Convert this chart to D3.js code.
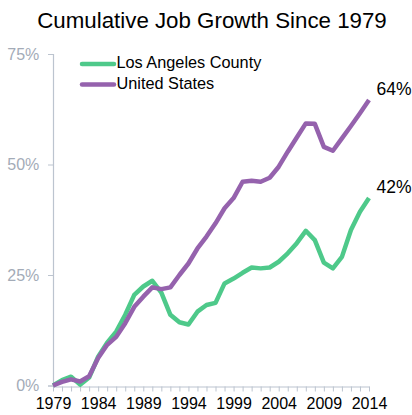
<!DOCTYPE html>
<html><head><meta charset="utf-8">
<script src="https://cdn.jsdelivr.net/npm/d3@7"></script>
<style>body{margin:0;background:#fff}svg{display:block;font-family:"Liberation Sans",Arial,sans-serif}</style>
</head><body><svg id="c" width="412" height="415"></svg>
<script>
const years = d3.range(1979, 2015);
const laCounty = [0,1.2,2.0,0.2,1.8,6.5,9.7,12.2,16,20.5,22.4,23.7,21,16,14.3,13.8,16.7,18.2,18.7,23.1,24.2,25.5,26.7,26.5,26.7,28,29.9,32.2,35.0,32.9,27.8,26.5,29.1,35.2,39.3,42.4];
const unitedStates = [0,0.8,1.4,0.9,2.1,6.2,9.2,11.0,14.1,17.8,20.1,22.2,21.8,22.2,25,27.6,31,33.7,36.7,40.1,42.4,46.1,46.3,46.1,47.0,49.5,52.9,56.1,59.3,59.2,54,53.1,55.9,58.7,61.6,64.6];
const yTicks = [0,25,50,75];
const xTickLabels = [1979,1984,1989,1994,1999,2004,2009,2014];
const seriesNames = ["Los Angeles County","United States"];
const colors = ["#4ec98a","#9562ad"];
const endLabels = ["42%","64%"];

const svg = d3.select("#c");
const x = d3.scaleLinear().domain([1979,2014]).range([53,369]);
const y = d3.scaleLinear().domain([0,75]).range([385.5,54]);
const axisCol = "#bcc4cf";

svg.append("text").attr("x",212).attr("y",28).attr("text-anchor","middle")
  .attr("font-size",22.3).attr("fill","#000").text("Cumulative Job Growth Since 1979");

// y axis
const ya = svg.append("g").attr("transform","translate(53,0)")
  .call(d3.axisLeft(y).tickValues(yTicks).tickFormat(d=>d+"%").tickSize(5).tickPadding(8.7));
ya.select(".domain").attr("stroke",axisCol).attr("stroke-width",1.2);
ya.selectAll(".tick line").attr("stroke",axisCol);
ya.selectAll(".tick text").attr("fill","#a3abb7").attr("font-size",16).attr("font-family","Liberation Sans, Arial, sans-serif");

// x axis
const xa = svg.append("g").attr("transform","translate(0,386.5)")
  .call(d3.axisBottom(x).tickValues(years).tickFormat(d=>xTickLabels.includes(d)?d:"").tickSizeInner(5).tickSizeOuter(0).tickPadding(6));
xa.select(".domain").attr("stroke",axisCol).attr("stroke-width",1.2);
xa.selectAll(".tick line").attr("stroke",axisCol);
xa.selectAll(".tick text").attr("fill","#000").attr("font-size",16).attr("font-family","Liberation Sans, Arial, sans-serif");

const line = d3.line().x((d,i)=>x(years[i])).y(d=>y(d));
[laCounty, unitedStates].forEach((s,k)=>{
  svg.append("path").datum(s).attr("d",line).attr("fill","none")
    .attr("stroke",colors[k]).attr("stroke-width",4.5).attr("stroke-linejoin","round");
  svg.append("text").attr("x",376.5).attr("y",y(s[s.length-1])-10).attr("font-size",17.5)
    .attr("fill","#000").attr("dominant-baseline","middle").text(endLabels[k]);
});

// legend
seriesNames.forEach((n,k)=>{
  const ly = 64 + k*20.5;
  svg.append("line").attr("x1",82).attr("x2",114).attr("y1",ly).attr("y2",ly)
    .attr("stroke",colors[k]).attr("stroke-width",4.5).attr("stroke-linecap","round");
  svg.append("text").attr("x",116.5).attr("y",ly).attr("dominant-baseline","middle")
    .attr("font-size",16.3).attr("fill","#000").text(n);
});
</script></body></html>
